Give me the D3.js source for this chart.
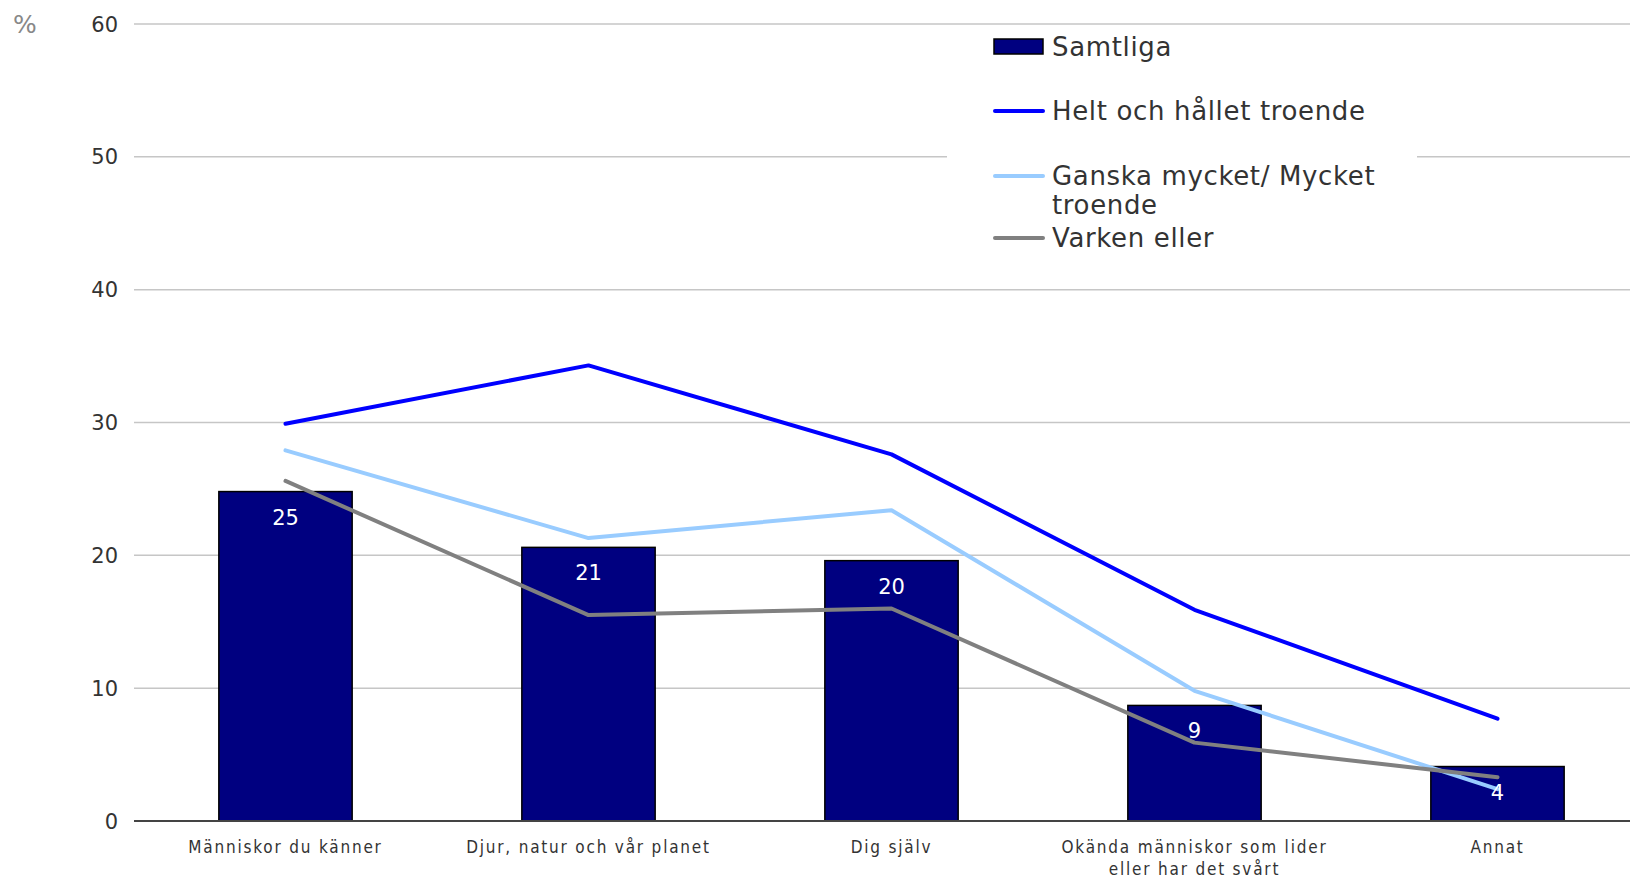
<!DOCTYPE html>
<html><head><meta charset="utf-8">
<script src="https://cdn.jsdelivr.net/npm/d3@7"></script>
<style>html,body{margin:0;padding:0;background:#fff;}svg{display:block;}</style>
</head><body>
<svg id="chart" width="1630" height="878"></svg>
<script>
const categories = [["Människor du känner"], ["Djur, natur och vår planet"], ["Dig själv"], ["Okända människor som lider", "eller har det svårt"], ["Annat"]];
const samtliga = [24.8, 20.6, 19.6, 8.7, 4.1];
const samtligaLabels = ["25", "21", "20", "9", "4"];
const helt = [29.9, 34.3, 27.6, 15.9, 7.7];
const ganska = [27.9, 21.3, 23.4, 9.8, 2.4];
const varken = [25.6, 15.5, 16.0, 5.9, 3.3];
const yTicks = [0, 10, 20, 30, 40, 50, 60];
const legendLabels = ["Samtliga", "Helt och hållet troende", ["Ganska mycket/ Mycket", "troende"], "Varken eller"];

const svg = d3.select("#chart");
const x = d3.scaleBand().domain(d3.range(categories.length)).range([134, 1649]).padding(0);
const y = d3.scaleLinear().domain([0, 60]).range([821, 24]);
const barW = x.bandwidth() * 0.44;
const cx = i => x(i) + x.bandwidth() / 2;

// gridlines
svg.append("g").selectAll("line").data(yTicks.filter(d => d > 0)).join("line")
  .attr("x1", 134).attr("x2", 1630).attr("y1", d => y(d)).attr("y2", d => y(d))
  .attr("stroke", "#c6c6c6").attr("stroke-width", 1.5);

// y tick labels
svg.append("g").selectAll("text").data(yTicks).join("text")
  .attr("x", 118).attr("y", d => y(d)).attr("dy", "0.36em").attr("text-anchor", "end")
  .attr("font-family", "DejaVu Sans").attr("font-size", 21).attr("fill", "#333")
  .text(d => d);
svg.append("text").attr("x", 13).attr("y", 24).attr("dy", "0.36em")
  .attr("font-family", "DejaVu Sans").attr("font-size", 25).attr("fill", "#888").text("%");

// legend background box
svg.append("rect").attr("x", 947).attr("y", 30).attr("width", 470).attr("height", 225).attr("fill", "#fff");

// bars
svg.append("g").selectAll("rect").data(samtliga).join("rect")
  .attr("x", (d, i) => cx(i) - barW / 2).attr("width", barW)
  .attr("y", d => y(d)).attr("height", d => y(0) - y(d))
  .attr("fill", "#000080").attr("stroke", "#000").attr("stroke-width", 1.5);

// zero axis
svg.append("line").attr("x1", 134).attr("x2", 1630).attr("y1", y(0)).attr("y2", y(0))
  .attr("stroke", "#444").attr("stroke-width", 2);

// lines
const series = [
  {vals: helt, color: "#0000ff"},
  {vals: ganska, color: "#99ccff"},
  {vals: varken, color: "#808080"}
];
const lineGen = d3.line().x((d, i) => cx(i)).y(d => y(d));
svg.append("g").selectAll("path").data(series).join("path")
  .attr("d", d => lineGen(d.vals)).attr("fill", "none")
  .attr("stroke", d => d.color).attr("stroke-width", 4).attr("stroke-linecap", "round").attr("stroke-linejoin", "round");

// bar labels
svg.append("g").selectAll("text").data(samtliga).join("text")
  .attr("x", (d, i) => cx(i)).attr("y", d => y(d) + 33).attr("text-anchor", "middle")
  .attr("font-family", "DejaVu Sans").attr("font-size", 21).attr("fill", "#fff")
  .text((d, i) => samtligaLabels[i]);

// category labels
const cat = svg.append("g").selectAll("text").data(categories).join("text")
  .attr("x", (d, i) => cx(i)).attr("y", 853).attr("text-anchor", "middle")
  .attr("font-family", "'DejaVu Sans Condensed', 'DejaVu Sans'").attr("font-stretch", "condensed")
  .attr("font-size", 17).attr("letter-spacing", 1.8).attr("fill", "#333");
cat.selectAll("tspan").data(d => d).join("tspan")
  .attr("x", function() { return d3.select(this.parentNode).attr("x"); })
  .attr("dy", (d, i) => i === 0 ? 0 : 22).text(d => d);

// legend
const lg = svg.append("g").attr("font-family", "DejaVu Sans").attr("font-size", 26).attr("letter-spacing", 0.65).attr("fill", "#333");
lg.append("rect").attr("x", 994).attr("y", 39).attr("width", 49).attr("height", 15)
  .attr("fill", "#000080").attr("stroke", "#000").attr("stroke-width", 1.5);
const legY = [47, 111, 176, 238];
series.forEach((s, i) => {
  lg.append("line").attr("x1", 995).attr("x2", 1043).attr("y1", legY[i + 1]).attr("y2", legY[i + 1])
    .attr("stroke", s.color).attr("stroke-width", 4).attr("stroke-linecap", "round");
});
legendLabels.forEach((l, i) => {
  const t = lg.append("text").attr("x", 1052).attr("y", legY[i]);
  if (Array.isArray(l)) {
    l.forEach((s, j) => t.append("tspan").attr("x", 1052).attr("dy", j === 0 ? "0.36em" : 29).text(s));
  } else t.attr("dy", "0.36em").text(l);
});
</script>
</body></html>
